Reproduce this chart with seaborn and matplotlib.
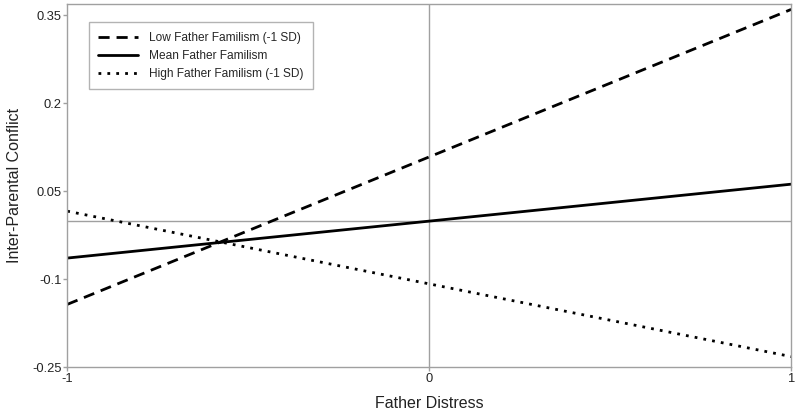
import matplotlib
matplotlib.use("Agg")
import matplotlib.pyplot as plt
import seaborn as sns
import pandas as pd

x_vals = [-1, 1]
low_vals = [-0.143, 0.360]
mean_vals = [-0.064, 0.062]
high_vals = [0.016, -0.232]
series_names = ["Low Father Familism (-1 SD)", "Mean Father Familism", "High Father Familism (-1 SD)"]
x_ticks = [-1, 0, 1]
y_ticks = [-0.25, -0.1, 0.05, 0.2, 0.35]
y_tick_labels = ["-0.25", "-0.1", "0.05", "0.2", "0.35"]

sns.set_theme(style="white")
plt.rcParams['font.family'] = ['Liberation Sans', 'DejaVu Sans']

fig = plt.figure(figsize=(8, 4.13), dpi=100)
ax = fig.add_axes([0.084, 0.111, 0.905, 0.879])

ax.axhline(0, color="#a0a0a0", lw=1, zorder=1)
ax.axvline(0, color="#a0a0a0", lw=1, zorder=1)

styles = [(0, (4, 2.5)), "-", (0, (1, 2.2))]
for name, vals, ls in zip(series_names, [low_vals, mean_vals, high_vals], styles):
    df = pd.DataFrame({"x": x_vals, "y": vals})
    sns.lineplot(data=df, x="x", y="y", ax=ax, color="black", lw=2, linestyle=ls, label=name)

ax.set_xlim(-1, 1)
ax.set_ylim(-0.25, 0.369)
ax.set_xticks(x_ticks)
ax.set_xticklabels(["-1", "0", "1"])
ax.set_yticks(y_ticks)
ax.set_yticklabels(y_tick_labels)
ax.tick_params(axis="both", labelsize=9.3, length=3, width=1, color="#a0a0a0", direction="out",
               bottom=True, left=True, pad=1, labelcolor="#222222")
for s in ax.spines.values():
    s.set_color("#a0a0a0")
    s.set_linewidth(1)
ax.set_xlabel("Father Distress", fontsize=11.5, color="#222222", labelpad=8)
ax.set_ylabel("Inter-Parental Conflict", fontsize=11.5, color="#222222", labelpad=7)

leg = ax.legend(loc="upper left", bbox_to_anchor=(0.030, 0.95), fontsize=8.6, frameon=True,
                fancybox=False, edgecolor="#a0a0a0", handlelength=3.3, borderpad=0.8,
                labelspacing=0.5, handletextpad=0.9, borderaxespad=0)
leg.get_frame().set_linewidth(1)
for h in leg.get_lines():
    h.set_linewidth(2)

fig.savefig("out.png", dpi=100)
